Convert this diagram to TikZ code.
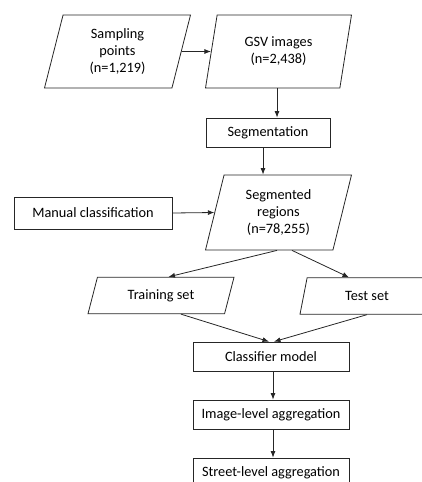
\documentclass[tikz,border=0pt]{standalone}
\usepackage{fontspec}
\setmainfont{Carlito}
\usetikzlibrary{shapes.geometric, arrows.meta}

\tikzset{
  flow/.style={line width=0.8pt, draw=black!85},
  procbox/.style={flow, rectangle, inner sep=0, minimum height=29pt},
  datatall/.style={flow, trapezium, trapezium left angle=68,
    trapezium right angle=112, trapezium stretches body,
    minimum width=146pt, minimum height=73pt, inner sep=0, align=center},
  dataflat/.style={flow, trapezium, trapezium left angle=52.5,
    trapezium right angle=127.5, trapezium stretches body,
    minimum height=36.5pt, inner sep=0, align=center},
  link/.style={line width=0.8pt, draw=black!85,
    -{Latex[length=6.5pt, width=5pt]}},
}

\begin{document}
\begin{tikzpicture}[x=1pt, y=-1pt, font=\fontsize{14.3}{17}\selectfont]
\useasboundingbox (0,0) rectangle (422,482);
\clip (0,0) rectangle (422,482);

% input data
\node[datatall] (sample) at (117.5, 51.5) {Sampling\\points\\(n=1,219)};
\node[datatall] (gsv)    at (278.5, 51.5) {GSV images\\(n=2,438)};
\node[procbox, minimum width=124pt] (segm) at (268, 132.5) {Segmentation};
\node[datatall, minimum height=75pt] (regions) at (278.5, 212.5)
    {Segmented\\regions\\(n=78,255)};
\node[procbox, minimum width=158pt, minimum height=32pt] (manual)
    at (93, 213) {Manual classification};

% split
\node[dataflat, minimum width=146pt] (train) at (161, 295.5) {Training set};
\node[dataflat, minimum width=134pt] (test)  at (367, 296)   {Test set};

% model and aggregation
\node[procbox, minimum width=156pt] (model)  at (271, 356.5) {Classifier model};
\node[procbox, minimum width=156pt] (imgagg) at (271, 414.5) {Image-level aggregation};
\node[procbox, minimum width=156pt] (stragg) at (271, 472.5) {Street-level aggregation};

\draw[link] (sample.east) -- (gsv.west);
\draw[link] ([xshift=-1.5pt]gsv.south) -- ([xshift=-1.5pt]gsv.south |- segm.north);
\draw[link] ([xshift=-5pt]segm.south) -- ([xshift=-5pt]segm.south |- regions.north);
\draw[link] (manual.east) -- (regions.west);
\draw[link] ([xshift=-1.5pt]regions.south) -- ([xshift=7.5pt]train.north);
\draw[link] ([xshift=13.5pt]regions.south) -- ([xshift=-18pt]test.north);
\draw[link] ([xshift=20pt]train.south) -- ([xshift=-2pt]model.north);
\draw[link] (test.south) -- ([xshift=3pt]model.north);
\draw[link] ([xshift=2pt]model.south) -- ([xshift=2pt]imgagg.north);
\draw[link] ([xshift=2pt]imgagg.south) -- ([xshift=2pt]stragg.north);
\end{tikzpicture}
\end{document}
